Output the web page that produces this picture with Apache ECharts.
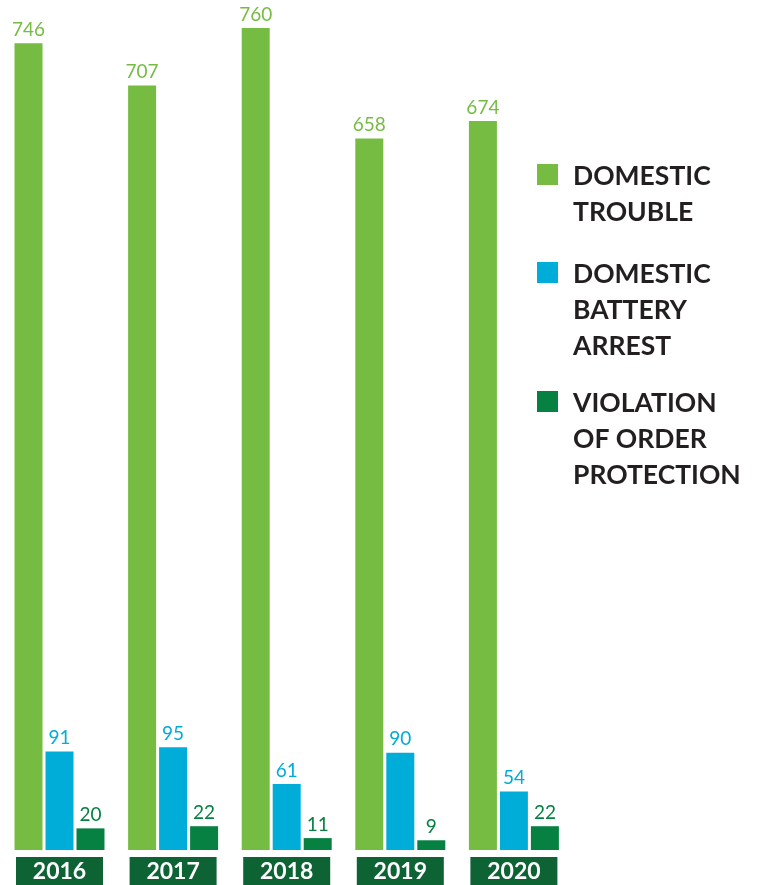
<!DOCTYPE html>
<html>
<head>
<meta charset="utf-8">
<script src="https://cdn.jsdelivr.net/npm/echarts@6/dist/echarts.min.js"></script>
<style>
html,body{margin:0;padding:0;background:#fff;}
#chart{width:762px;height:885px;}
</style>
</head>
<body>
<div id="chart"></div>
<script>
const years = ['2016', '2017', '2018', '2019', '2020'];
const domesticTrouble = [746, 707, 760, 658, 674];
const batteryArrest = [91, 95, 61, 90, 54];
const orderViolation = [20, 22, 11, 9, 22];
const seriesNames = ['DOMESTIC\nTROUBLE', 'DOMESTIC\nBATTERY\nARREST', 'VIOLATION\nOF ORDER\nPROTECTION'];
const colors = ['#76bc43', '#00acd8', '#078142'];

const chart = echarts.init(document.getElementById('chart'));
const labelFont = 'Lato, "Noto Sans", sans-serif';

function makeSeries(name, data, color) {
  return {
    name: name,
    type: 'bar',
    data: data,
    barWidth: 28,
    barGap: '10.7%',
    itemStyle: { color: color },
    label: {
      show: true,
      position: 'top',
      distance: 4,
      color: color,
      fontSize: 19,
      fontFamily: labelFont,
      fontWeight: 'normal'
    }
  };
}

const legendTops = [164, 262, 391];
const legendGraphics = [];
seriesNames.forEach((n, i) => {
  legendGraphics.push({
    type: 'rect',
    left: 537,
    top: legendTops[i],
    shape: { width: 21, height: 21 },
    style: { fill: colors[i] }
  });
  legendGraphics.push({
    type: 'text',
    left: 573,
    top: legendTops[i] - 6,
    style: {
      text: n,
      fill: '#231f20',
      font: 'bold 26.5px Lato, "Noto Sans", sans-serif',
      lineHeight: 36
    }
  });
});

chart.setOption({
  animation: false,
  backgroundColor: '#ffffff',
  grid: { left: 2.7, right: 191.3, top: 0, bottom: 35, containLabel: false },
  xAxis: {
    type: 'category',
    data: years,
    axisLine: { show: false },
    axisTick: { show: false },
    axisLabel: {
      margin: 7,
      color: '#ffffff',
      fontSize: 23,
      fontWeight: 'bold',
      fontFamily: labelFont,
      backgroundColor: '#0d6334',
      width: 87,
      height: 28,
      lineHeight: 30,
      align: 'center',
      verticalAlign: 'top'
    }
  },
  yAxis: {
    type: 'value',
    min: 0,
    max: 786,
    show: false,
    splitLine: { show: false }
  },
  series: [
    makeSeries(seriesNames[0], domesticTrouble, colors[0]),
    makeSeries(seriesNames[1], batteryArrest, colors[1]),
    makeSeries(seriesNames[2], orderViolation, colors[2])
  ],
  graphic: legendGraphics
});
</script>
</body>
</html>
